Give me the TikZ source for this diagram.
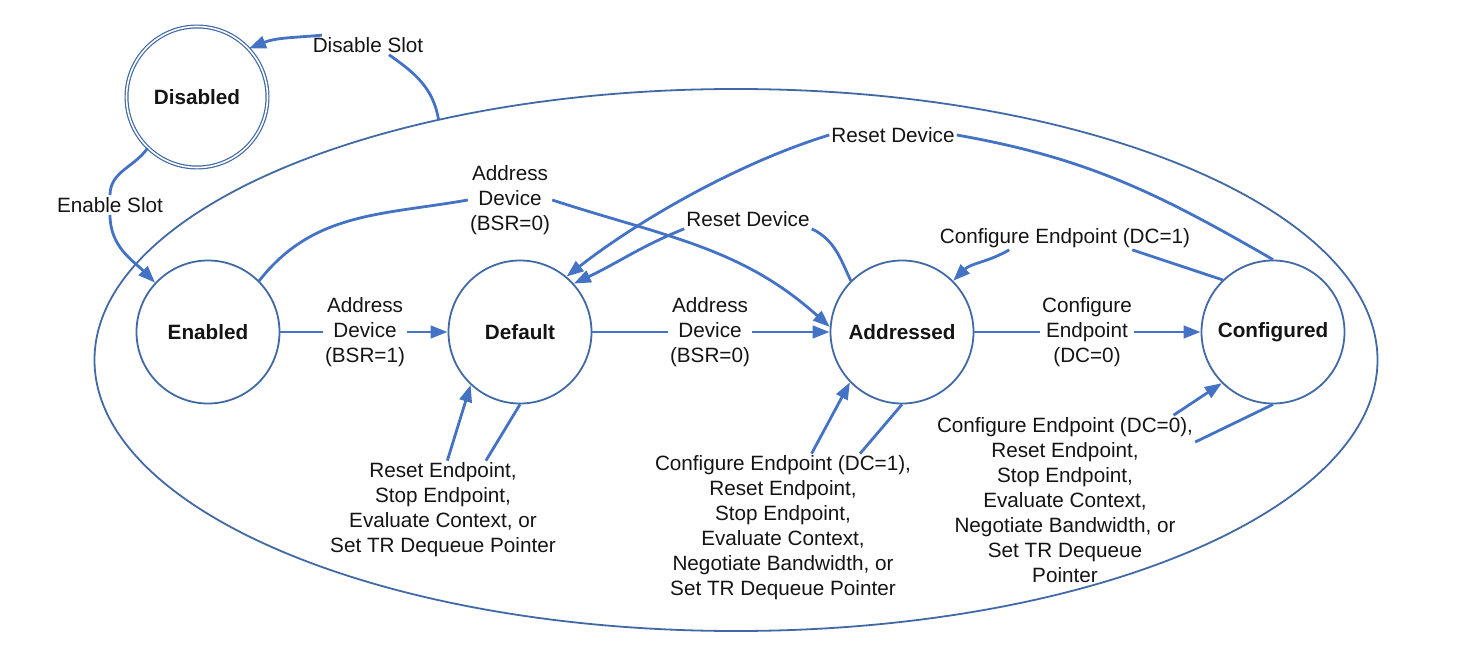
\documentclass[tikz,border=0pt]{standalone}
\usepackage{fontspec}
\setmainfont{Liberation Sans}
\usetikzlibrary{arrows.meta,shapes.geometric}
\definecolor{edgeblue}{RGB}{68,114,196}
\definecolor{circblue}{RGB}{65,105,165}
\definecolor{txt}{RGB}{20,20,20}
\begin{document}
\begin{tikzpicture}[x=1pt,y=1pt,
  state/.style={circle,draw=circblue,line width=1.8pt,minimum size=143pt,inner sep=0pt,
    font=\fontsize{20.7}{25}\selectfont\bfseries,text=txt},
  lbl/.style={align=center,inner sep=2pt,font=\fontsize{20.7}{25}\selectfont,text=txt},
  edge/.style={draw=edgeblue,line width=2.8pt},
  arr/.style={edge,-{Triangle[length=17pt,width=12.5pt]}}]
\useasboundingbox (0,0) rectangle (1467,-663);
% outer ellipse
\node[ellipse,draw=circblue,line width=1.8pt,minimum width=1283pt,minimum height=542pt,inner sep=0pt] (outer) at (736,-360) {};
% states
\node[state,double=white,double distance=1.6pt,line width=1.2pt,minimum size=141pt] (disabled) at (197,-97) {Disabled};
\node[state] (enabled) at (208,-332) {Enabled};
\node[state] (default) at (520,-332) {Default};
\node[state] (addressed) at (902,-332) {Addressed};
\node[state] (configured) at (1273,-332) {Configured};
% labels
\node[lbl] (ds) at (368,-45) {Disable Slot};
\node[lbl] (es) at (110,-205) {Enable Slot};
\node[lbl] (ad1) at (365,-332) {Address\\Device\\(BSR=1)};
\node[lbl] (ad0a) at (510,-200) {Address\\Device\\(BSR=0)};
\node[lbl] (ad0b) at (710,-332) {Address\\Device\\(BSR=0)};
\node[lbl] (ce0) at (1087,-332) {Configure\\Endpoint\\(DC=0)};
\node[lbl] (rd1) at (748,-219) {Reset Device};
\node[lbl] (rd2) at (893,-135) {Reset Device};
\node[lbl] (ce1) at (1065,-238) {Configure Endpoint (DC=1)};
\node[lbl] (dl) at (443,-510) {Reset Endpoint,\\Stop Endpoint,\\Evaluate Context, or\\Set TR Dequeue Pointer};
\node[lbl] (al) at (783,-528) {Configure Endpoint (DC=1),\\Reset Endpoint,\\Stop Endpoint,\\Evaluate Context,\\Negotiate Bandwidth, or\\Set TR Dequeue Pointer};
\node[lbl] (cl) at (1065,-500) {Configure Endpoint (DC=0),\\Reset Endpoint,\\Stop Endpoint,\\Evaluate Context,\\Negotiate Bandwidth, or\\Set TR Dequeue\\Pointer};
% disable / enable slot
\draw[arr] (ds.168) to[out=185,in=22] (disabled.43);
\draw[edge] (ds.-25) to[out=-35,in=100] (outer.141);
\draw[edge] (disabled.226) to[out=235,in=90] (es.north);
\draw[arr] (es.south) to[out=-90,in=135] (enabled.137);
% straight transitions
\draw[edge] (enabled) -- (ad1);
\draw[arr] (ad1) -- (default);
\draw[edge] (default) -- (ad0b);
\draw[arr] (ad0b) -- (addressed);
\draw[edge] (addressed) -- (ce0);
\draw[arr] (ce0) -- (configured);
% enabled -> addressed
\draw[edge] (enabled.45) to[out=52,in=190] (ad0a.west);
\draw[arr] (ad0a.east) to[out=-18,in=138] (addressed.176);
% reset device
\draw[edge] (addressed.135) to[out=115,in=-26] (rd1.south east);
\draw[arr] (rd1.south west) to[out=202,in=25] (default.42);
\draw[edge] (configured.90) to[out=150,in=-10] (rd2.east);
\draw[arr] (rd2.west) to[out=197,in=38,looseness=0.8] (default.50);
% configure endpoint DC=1
\draw[edge] (configured.134) -- (ce1.-10);
\draw[arr] (ce1.192) to[out=210,in=45] (addressed.45);
% self loops
\draw[arr] (dl.85) -- (default.227);
\draw[edge] (default.270) -- (dl.49);
\draw[arr] (al.69) -- (addressed.224);
\draw[edge] (addressed.270) -- (al.44);
\draw[arr] (cl.38) -- (configured.225);
\draw[edge] (configured.270) -- (cl.24);
\end{tikzpicture}
\end{document}
